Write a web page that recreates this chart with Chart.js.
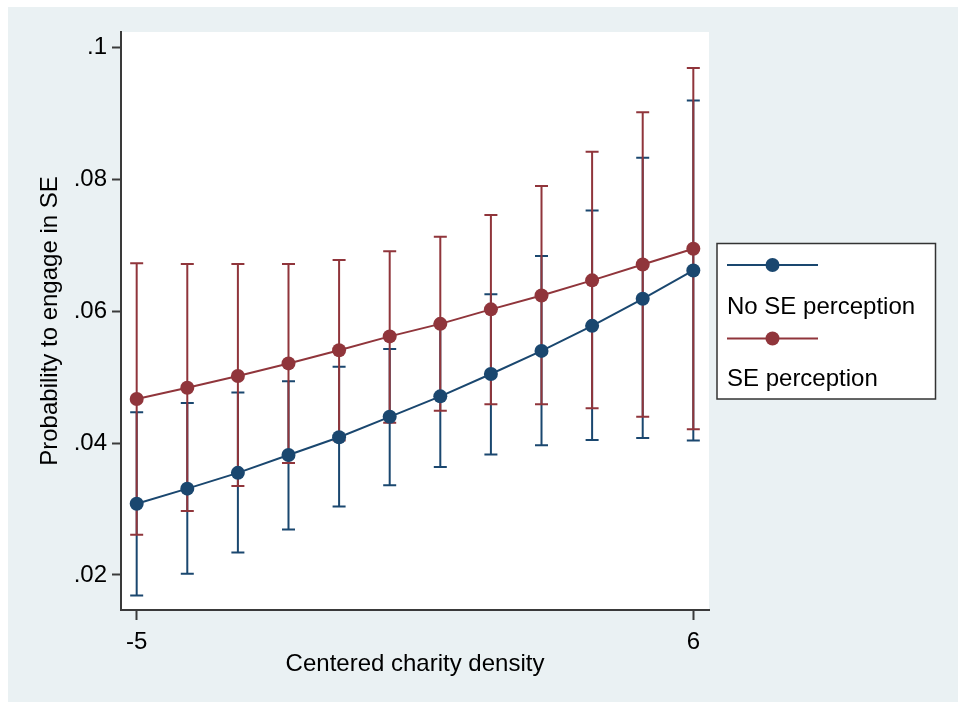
<!DOCTYPE html>
<html>
<head>
<meta charset="utf-8">
<script src="https://cdn.jsdelivr.net/npm/chart.js@4.4.1/dist/chart.umd.min.js"></script>
<style>
  html, body { margin: 0; padding: 0; background: #fff; }
  canvas { display: block; }
</style>
</head>
<body>
<canvas id="chart" width="959" height="702"></canvas>
<script>
// Centered charity density values
const xValues = [-5, -4, -3, -2, -1, 0, 1, 2, 3, 4, 5, 6];

// No SE perception: predicted probability and 95% CI
const noSE = [0.0308, 0.0331, 0.0355, 0.0382, 0.0409, 0.0440, 0.0471, 0.0505, 0.0540, 0.0578, 0.0619, 0.0662];
const noSELow = [0.0169, 0.0202, 0.0234, 0.0269, 0.0304, 0.0336, 0.0364, 0.0383, 0.0397, 0.0405, 0.0408, 0.0404];
const noSEHigh = [0.0447, 0.0461, 0.0477, 0.0494, 0.0516, 0.0543, 0.0581, 0.0626, 0.0684, 0.0753, 0.0833, 0.0920];

// SE perception: predicted probability and 95% CI
const withSE = [0.0467, 0.0484, 0.0502, 0.0521, 0.0541, 0.0562, 0.0581, 0.0603, 0.0624, 0.0647, 0.0671, 0.0695];
const withSELow = [0.0261, 0.0297, 0.0335, 0.0370, 0.0404, 0.0431, 0.0449, 0.0459, 0.0459, 0.0453, 0.0440, 0.0421];
const withSEHigh = [0.0673, 0.0672, 0.0672, 0.0672, 0.0678, 0.0691, 0.0713, 0.0746, 0.0790, 0.0842, 0.0902, 0.0969];

const yTicks = [0.02, 0.04, 0.06, 0.08, 0.1];
const yTickLabels = ['.02', '.04', '.06', '.08', '.1'];
const xTicks = [-5, 6];
const xTickLabels = ['-5', '6'];

const NAVY = '#1a476f';
const MAROON = '#90353b';
const AXIS = '#3a3a3a';
const BG = '#eaf1f3';
const FONT = '"Liberation Sans", Arial, sans-serif';

Chart.defaults.font.family = FONT;
Chart.defaults.font.size = 24;
Chart.defaults.color = '#000';

const toPoints = (vals) => xValues.map((x, i) => ({ x: x, y: vals[i] }));

// background: outer light panel and white plot region
const backgroundPlugin = {
    id: 'stataBackground',
    beforeDraw(chart) {
        const { ctx, chartArea } = chart;
        ctx.save();
        ctx.fillStyle = '#fff';
        ctx.fillRect(0, 0, chart.width, chart.height);
        ctx.fillStyle = BG;
        ctx.fillRect(8, 7, chart.width - 9, chart.height - 7);
        ctx.fillStyle = '#fff';
        ctx.fillRect(chartArea.left, chartArea.top, chartArea.right - chartArea.left, chartArea.bottom - chartArea.top);
        ctx.restore();
    }
};

// confidence interval caps, drawn under the connected lines
const errorBarPlugin = {
    id: 'ciCaps',
    beforeDatasetsDraw(chart) {
        const { ctx, scales: { x, y } } = chart;
        const series = [
            { low: noSELow, high: noSEHigh, color: NAVY },
            { low: withSELow, high: withSEHigh, color: MAROON }
        ];
        const capHalf = 6.5;
        ctx.save();
        ctx.lineWidth = 2;
        series.forEach(s => {
            ctx.strokeStyle = s.color;
            xValues.forEach((xv, i) => {
                const px = x.getPixelForValue(xv);
                const lo = y.getPixelForValue(s.low[i]);
                const hi = y.getPixelForValue(s.high[i]);
                ctx.beginPath();
                ctx.moveTo(px, lo);
                ctx.lineTo(px, hi);
                ctx.moveTo(px - capHalf, lo);
                ctx.lineTo(px + capHalf, lo);
                ctx.moveTo(px - capHalf, hi);
                ctx.lineTo(px + capHalf, hi);
                ctx.stroke();
            });
        });
        ctx.restore();
    }
};

// Stata style legend box to the right of the plot
const legendPlugin = {
    id: 'stataLegend',
    afterDraw(chart) {
        const { ctx } = chart;
        const box = { left: 717, top: 243.5, right: 935.5, bottom: 399 };
        ctx.save();
        ctx.fillStyle = '#fff';
        ctx.fillRect(box.left, box.top, box.right - box.left, box.bottom - box.top);
        ctx.strokeStyle = '#333';
        ctx.lineWidth = 1.5;
        ctx.strokeRect(box.left, box.top, box.right - box.left, box.bottom - box.top);

        const rows = [
            { ds: chart.data.datasets[0], lineY: 265, textY: 306 },
            { ds: chart.data.datasets[1], lineY: 338.5, textY: 378 }
        ];
        rows.forEach(r => {
            ctx.strokeStyle = r.ds.borderColor;
            ctx.lineWidth = 2;
            ctx.beginPath();
            ctx.moveTo(727, r.lineY);
            ctx.lineTo(818, r.lineY);
            ctx.stroke();
            ctx.fillStyle = r.ds.borderColor;
            ctx.beginPath();
            ctx.arc(772.5, r.lineY, 7, 0, Math.PI * 2);
            ctx.fill();
            ctx.fillStyle = '#000';
            ctx.font = '24px ' + FONT;
            ctx.textAlign = 'left';
            ctx.textBaseline = 'middle';
            ctx.fillText(r.ds.label, 727, r.textY + 1);
        });
        ctx.restore();
    }
};

new Chart(document.getElementById('chart'), {
    type: 'line',
    data: {
        datasets: [
            {
                label: 'No SE perception',
                data: toPoints(noSE),
                borderColor: NAVY,
                backgroundColor: NAVY,
                pointBackgroundColor: NAVY,
                borderWidth: 2,
                pointRadius: 7,
                pointBorderWidth: 0,
                tension: 0,
                order: 2
            },
            {
                label: 'SE perception',
                data: toPoints(withSE),
                borderColor: MAROON,
                backgroundColor: MAROON,
                pointBackgroundColor: MAROON,
                borderWidth: 2,
                pointRadius: 7,
                pointBorderWidth: 0,
                tension: 0,
                order: 1
            }
        ]
    },
    options: {
        responsive: false,
        animation: false,
        layout: { padding: { left: 0, top: 32, right: 250, bottom: 0 } },
        plugins: {
            legend: { display: false },
            tooltip: { enabled: false }
        },
        scales: {
            x: {
                type: 'linear',
                min: -5.31,
                max: 6.31,
                afterBuildTicks: (scale) => { scale.ticks = xTicks.map(v => ({ value: v })); },
                afterFit: (scale) => { scale.height = 92; },
                ticks: {
                    padding: 8,
                    color: '#000',
                    callback: (v) => xTickLabels[xTicks.indexOf(v)]
                },
                grid: {
                    drawOnChartArea: false,
                    drawTicks: true,
                    tickLength: 10,
                    tickWidth: 2,
                    tickColor: AXIS
                },
                border: { display: true, color: AXIS, width: 2 },
                title: {
                    display: true,
                    text: 'Centered charity density',
                    color: '#000',
                    padding: { top: 0, bottom: 23 }
                }
            },
            y: {
                type: 'linear',
                min: 0.01469,
                max: 0.10238,
                afterBuildTicks: (scale) => { scale.ticks = yTicks.map(v => ({ value: v })); },
                afterFit: (scale) => { scale.width = 121; },
                ticks: {
                    padding: 5,
                    color: '#000',
                    callback: (v) => yTickLabels[yTicks.indexOf(v)]
                },
                grid: {
                    drawOnChartArea: false,
                    drawTicks: true,
                    tickLength: 9,
                    tickWidth: 2,
                    tickColor: AXIS
                },
                border: { display: true, color: AXIS, width: 2 },
                title: {
                    display: true,
                    text: 'Probability to engage in SE',
                    color: '#000',
                    padding: { top: 36, bottom: 0 }
                }
            }
        }
    },
    plugins: [backgroundPlugin, errorBarPlugin, legendPlugin]
});
</script>
</body>
</html>
